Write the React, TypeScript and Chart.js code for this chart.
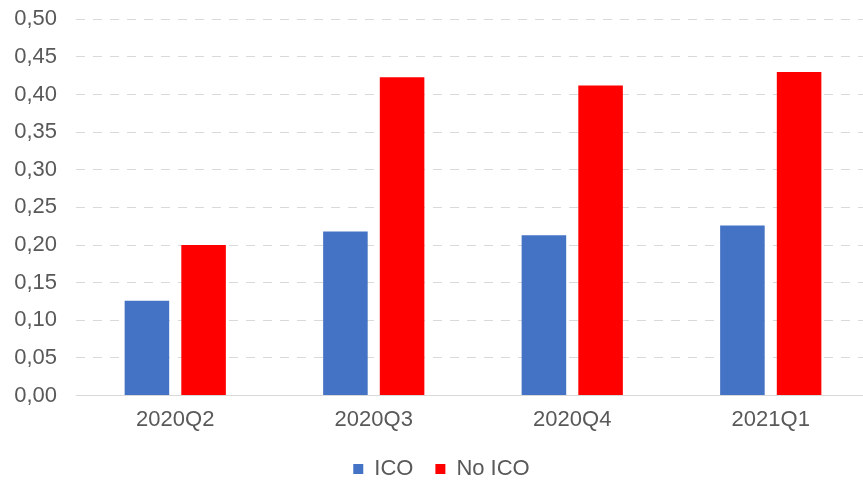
import React, { useEffect, useRef } from "react";
import { Chart, registerables } from "chart.js";

Chart.register(...registerables);

const categories = ["2020Q2", "2020Q3", "2020Q4", "2021Q1"];
const icoValues = [0.126, 0.218, 0.213, 0.226];
const noIcoValues = [0.2, 0.423, 0.412, 0.43];
const seriesNames = ["ICO", "No ICO"];

const FONT = "'Liberation Sans', Arial, sans-serif";

export default function App() {
  const ref = useRef<HTMLCanvasElement | null>(null);
  useEffect(() => {
    if (!ref.current) return;
    const chart = new Chart(ref.current, {
      type: "bar",
      data: {
        labels: categories,
        datasets: [
          {
            label: seriesNames[0],
            data: icoValues,
            backgroundColor: "#4472C4",
            categoryPercentage: 0.571,
            barPercentage: 0.786,
          },
          {
            label: seriesNames[1],
            data: noIcoValues,
            backgroundColor: "#FF0000",
            categoryPercentage: 0.571,
            barPercentage: 0.786,
          },
        ],
      },
      options: {
        animation: false,
        responsive: false,
        layout: { padding: { top: 0, right: 2, left: 13, bottom: 0 } },
        plugins: {
          legend: {
            position: "bottom",
            labels: {
              boxWidth: 10,
              boxHeight: 10,
              color: "#595959",
              font: { family: FONT, size: 22 },
              padding: 22,
            },
          },
          tooltip: { enabled: false },
        },
        scales: {
          x: {
            grid: { display: false },
            border: { display: true, color: "#d9d9d9", width: 1 },
            ticks: {
              color: "#595959",
              font: { family: FONT, size: 22 },
              padding: 3,
              maxRotation: 0,
            },
          },
          y: {
            min: 0,
            max: 0.5,
            afterFit: (scale: any) => {
              scale.width = 63;
            },
            ticks: {
              stepSize: 0.05,
              color: "#595959",
              font: { family: FONT, size: 22 },
              padding: 19,
              callback: (v: any) => Number(v).toFixed(2).replace(".", ","),
            },
            grid: { color: "#d9d9d9", drawTicks: false, lineWidth: 1 },
            border: { display: false, dash: [9, 8] },
          },
        },
      },
    });
    return () => chart.destroy();
  }, []);
  return (
    <div style={{ position: "fixed", left: 0, top: 0, width: 863, height: 484, overflow: "hidden", background: "#fff" }}>
      <canvas
        ref={ref}
        width={872}
        height={503}
        style={{ position: "absolute", left: 0, top: -13, width: 872, height: 503 }}
      />
    </div>
  );
}
